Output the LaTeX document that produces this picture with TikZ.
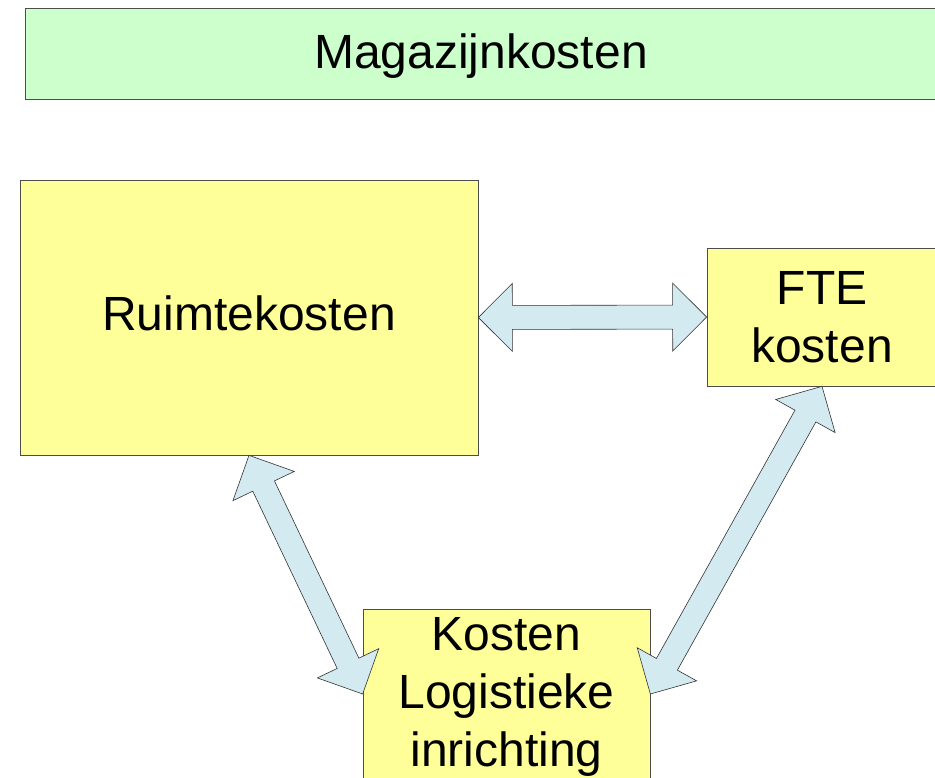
\documentclass[tikz,border=0pt]{standalone}
\usepackage{fontspec}
\setmainfont{Liberation Sans}
\usetikzlibrary{calc}

\definecolor{boxyellow}{HTML}{FFFF99}
\definecolor{boxgreen}{HTML}{CCFFCC}
\definecolor{arrowblue}{HTML}{D2EAF0}

% block arrow with a head at both ends, from tip #1 to tip #2
\newcommand{\linkarrow}[2]{%
  \draw[linkarrow] let \p1=($(#2)-(#1)$), \n1={atan2(\y1,\x1)}, \n2={veclen(\x1,\y1)} in
    (#1) -- ($(#1)+(\n1:34)+(\n1+90:34)$) -- ($(#1)+(\n1:34)+(\n1+90:12)$)
    -- ($(#1)+(\n1:\n2-34)+(\n1+90:12)$) -- ($(#1)+(\n1:\n2-34)+(\n1+90:34)$)
    -- (#2) -- ($(#1)+(\n1:\n2-34)+(\n1-90:34)$) -- ($(#1)+(\n1:\n2-34)+(\n1-90:12)$)
    -- ($(#1)+(\n1:34)+(\n1-90:12)$) -- ($(#1)+(\n1:34)+(\n1-90:34)$) -- cycle;}

\begin{document}
\begin{tikzpicture}[x=1pt, y=1pt,
  costbox/.style={draw=black!70, line width=0.7pt, fill=boxyellow, inner sep=0pt,
    align=center, font=\fontsize{48}{57.6}\selectfont},
  titlebox/.style={costbox, fill=boxgreen},
  linkarrow/.style={draw=black!80, line width=0.6pt, fill=arrowblue, line join=miter}]
\useasboundingbox (0,0) rectangle (935,-778);
\clip (0,0) rectangle (935,-778);
\node[titlebox, minimum width=912pt, minimum height=91pt, text depth=5pt] (magazijn) at (481,-53.5) {Magazijnkosten};
\node[costbox, minimum width=458pt, minimum height=275pt, text depth=9pt] (ruimte) at (249,-317.5) {Ruimtekosten};
\node[costbox, minimum width=230pt, minimum height=138pt] (fte) at (822,-317) {FTE\\kosten};
\node[costbox, minimum width=287pt, minimum height=170pt, text depth=4pt] (logistiek) at (506.5,-694) {Kosten\\Logistieke\\inrichting};
\linkarrow{ruimte.east}{fte.west}
\linkarrow{ruimte.south}{logistiek.west}
\linkarrow{fte.south}{logistiek.east}
\end{tikzpicture}
\end{document}
